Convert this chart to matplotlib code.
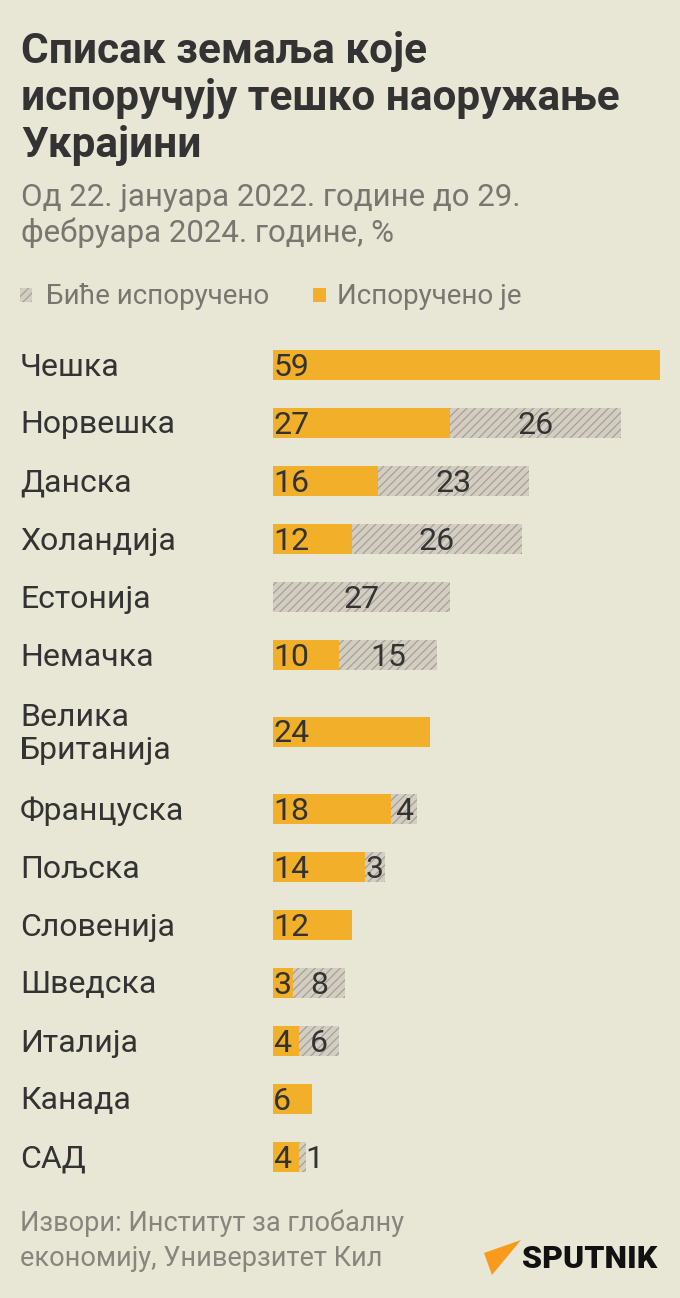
import matplotlib.pyplot as plt
from matplotlib.patches import Polygon, Rectangle

plt.rcParams['font.family'] = ['Roboto', 'DejaVu Sans']
plt.rcParams['hatch.linewidth'] = 0.8

# data
countries = ["Чешка", "Норвешка", "Данска", "Холандија", "Естонија", "Немачка",
             "Велика\nБританија", "Француска", "Пољска", "Словенија", "Шведска",
             "Италија", "Канада", "САД"]
delivered = [59, 27, 16, 12, 0, 10, 24, 18, 14, 12, 3, 4, 6, 4]
to_deliver = [0, 26, 23, 26, 27, 15, 0, 4, 3, 0, 8, 6, 0, 1]

title_lines = ["Списак земаља које", "испоручују тешко наоружање", "Украјини"]
subtitle_lines = ["Од 22. јануара 2022. године до 29.", "фебруара 2024. године, %"]
legend_labels = ["Биће испоручено", "Испоручено је"]
source_lines = ["Извори: Институт за глобалну", "економију, Универзитет Кил"]

W, H = 680, 1298
BG = "#E8E6D5"
ORANGE = "#F2AF29"
GREY = "#D3CEC1"
HATCH = "#A09C93"
DARK = "#333333"
MUTED = "#777770"

fig = plt.figure(figsize=(W / 100, H / 100), dpi=100, facecolor=BG)


def fx(x):
    return x / W


def fy(y):
    return 1 - y / H


# title / subtitle
for i, line in enumerate(title_lines):
    fig.text(fx(21), fy(63 + 47 * i), line, fontsize=30.5, fontweight='bold',
             color=DARK, va='baseline')
for i, line in enumerate(subtitle_lines):
    fig.text(fx(21), fy(206 + 36 * i), line, fontsize=22.5, color=MUTED, va='baseline')

# legend
fig.patches.append(Rectangle((fx(20), fy(302)), fx(12), 14 / H, transform=fig.transFigure,
                             facecolor=GREY, edgecolor=HATCH, hatch='////', lw=0))
fig.text(fx(46), fy(304), legend_labels[0], fontsize=20, color=MUTED, va='baseline')
fig.patches.append(Rectangle((fx(313), fy(302)), fx(13), 14 / H, transform=fig.transFigure,
                             facecolor=ORANGE, lw=0))
fig.text(fx(337), fy(304), legend_labels[1], fontsize=20, color=MUTED, va='baseline')

# row positions (px) - two-line labels get extra room
centers = []
y = 365
for i, c in enumerate(countries):
    if i > 0:
        y += 58 + 19 * (countries[i - 1].count("\n") + c.count("\n"))
    centers.append(y)

top, bottom = 330, 1190
ax = fig.add_axes([fx(273), fy(bottom), fx(660 - 273), (bottom - top) / H])
ax.set_facecolor('none')
ax.set_xlim(0, 59)
ax.set_ylim(bottom, top)
ax.axis('off')

ax.barh(centers, delivered, height=30, color=ORANGE, lw=0)
ax.barh(centers, to_deliver, left=delivered, height=30, color=GREY,
        edgecolor=HATCH, hatch='////', lw=0)

ppu = (660 - 273) / 59
for c, d, t, yc in zip(countries, delivered, to_deliver, centers):
    fig.text(fx(20), fy(yc + 2), c, fontsize=23, color=DARK, va='center',
             linespacing=1.2)
    if d > 0:
        ax.text(0.05, yc + 2, str(d), fontsize=23, color=DARK, va='center', ha='left')
    if t > 0:
        if t * ppu < 12:
            ax.text(d + t, yc + 2, str(t), fontsize=23, color=DARK, va='center', ha='left')
        else:
            ax.text(d + t / 2, yc + 2, str(t), fontsize=23, color=DARK, va='center', ha='center')

# source
for i, line in enumerate(source_lines):
    fig.text(fx(20), fy(1231 + 35 * i), line, fontsize=19.5, color="#86867c", va='baseline')

# sputnik logo
fig.patches.append(Polygon([(fx(484), fy(1253)), (fx(521), fy(1240)), (fx(492), fy(1275))],
                           closed=True, transform=fig.transFigure, facecolor="#F89A1C", lw=0))
fig.text(fx(522), fy(1268), "SPUTNIK", fontsize=23, fontweight='black', color="#111111",
         va='baseline')

fig.savefig("out.png", dpi=100, facecolor=BG)
